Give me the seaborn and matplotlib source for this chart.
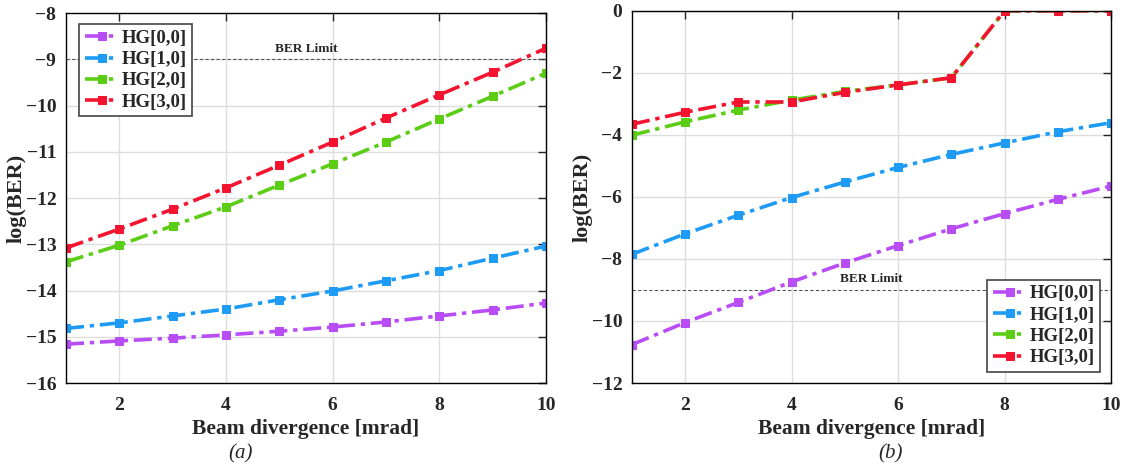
import numpy as np
import pandas as pd
import matplotlib
matplotlib.use("Agg")
import matplotlib.pyplot as plt
import seaborn as sns

# Beam divergence (mrad)
divergence = [1, 2, 3, 4, 5, 6, 7, 8, 9, 10]

# (a) log(BER) per HG mode
a_hg00 = [-15.16, -15.09, -15.03, -14.96, -14.88, -14.79, -14.68, -14.55, -14.42, -14.27]
a_hg10 = [-14.82, -14.70, -14.55, -14.40, -14.20, -14.01, -13.79, -13.57, -13.30, -13.04]
a_hg20 = [-13.38, -13.02, -12.60, -12.19, -11.72, -11.26, -10.79, -10.29, -9.80, -9.30]
a_hg30 = [-13.08, -12.67, -12.24, -11.78, -11.29, -10.79, -10.27, -9.77, -9.28, -8.76]

# (b) log(BER) per HG mode
b_hg00 = [-10.76, -10.05, -9.40, -8.74, -8.13, -7.57, -7.03, -6.54, -6.08, -5.65]
b_hg10 = [-7.85, -7.19, -6.59, -6.02, -5.52, -5.05, -4.63, -4.26, -3.90, -3.61]
b_hg20 = [-4.01, -3.58, -3.20, -2.88, -2.60, -2.39, -2.16, 0.0, 0.0, 0.0]
b_hg30 = [-3.66, -3.27, -2.94, -2.94, -2.63, -2.39, -2.16, 0.0, 0.0, 0.0]

modes = ["HG[0,0]", "HG[1,0]", "HG[2,0]", "HG[3,0]"]
colors = ["#B84CF5", "#1E9BF5", "#5ACD14", "#F51430"]
ber_limit = -9

sns.set_theme(style="white")
plt.rcParams["font.family"] = ["Liberation Serif", "DejaVu Serif"]

fig = plt.figure(figsize=(11.29, 4.7), dpi=100)
ax_a = fig.add_axes([0.0585, 0.1851, 0.4251, 0.7872])
ax_b = fig.add_axes([0.5598, 0.1851, 0.4243, 0.7920])


def draw(ax, series, ylim, yticks, legend_loc, legend_anchor, caption, cap_x):
    for name, vals, col in zip(modes, series, colors):
        df = pd.DataFrame({"x": divergence, "y": vals})
        sns.lineplot(data=df, x="x", y="y", ax=ax, color=col, marker="s",
                     markersize=5.5, markeredgecolor=col, linestyle="-.",
                     linewidth=2.6, label=name)
        ax.lines[-1].set_linestyle((0, (5, 1.6, 1.2, 1.6)))
    ax.axhline(ber_limit, color="#555555", linestyle=(0, (3, 2)), linewidth=0.8, zorder=1)
    span = ylim[1] - ylim[0]
    ax.text(5.5, ber_limit + 0.012 * span, "BER Limit", ha="center", va="bottom",
            fontsize=9.5, fontweight="bold")
    ax.set_xlim(1, 10)
    ax.set_ylim(*ylim)
    ax.set_xticks([2, 4, 6, 8, 10])
    ax.set_yticks(yticks)
    ax.set_yticklabels([f"\u2212{abs(t)}" if t < 0 else f"{t}" for t in yticks])
    ax.grid(True, color="#dddddd", linewidth=1.0)
    ax.tick_params(direction="in", top=True, right=True, length=6, width=1.0,
                   labelsize=14)
    ax.tick_params(axis="x", pad=10)
    ax.tick_params(axis="y", pad=7)
    for lab in ax.get_xticklabels() + ax.get_yticklabels():
        lab.set_fontweight("bold")
    for sp in ax.spines.values():
        sp.set_color("black")
        sp.set_linewidth(1.0)
    ax.set_xlabel("Beam divergence [mrad]", fontsize=15.5, fontweight="bold", labelpad=4)
    ax.set_ylabel("log(BER)", fontsize=16, fontweight="bold", labelpad=-1)
    leg = ax.legend(loc=legend_loc, bbox_to_anchor=legend_anchor, fancybox=False,
                    edgecolor="#444444", framealpha=1, handlelength=1.8,
                    handletextpad=0.15, borderpad=0.3, labelspacing=0.22,
                    borderaxespad=0.2,
                    prop={"weight": "bold", "size": 13.5, "family": "Liberation Serif"})
    leg.get_frame().set_linewidth(1.2)
    fig.text(cap_x, 0.035, caption, ha="center", va="center", fontsize=15, style="italic")


draw(ax_a, [a_hg00, a_hg10, a_hg20, a_hg30], (-16, -8), [-16, -15, -14, -13, -12, -11, -10, -9, -8],
     "upper left", (0.02, 0.98), "(a)", 0.213)
draw(ax_b, [b_hg00, b_hg10, b_hg20, b_hg30], (-12, 0), [-12, -10, -8, -6, -4, -2, 0],
     "lower right", (0.985, 0.02), "(b)", 0.789)

fig.savefig("out.png", dpi=100)
